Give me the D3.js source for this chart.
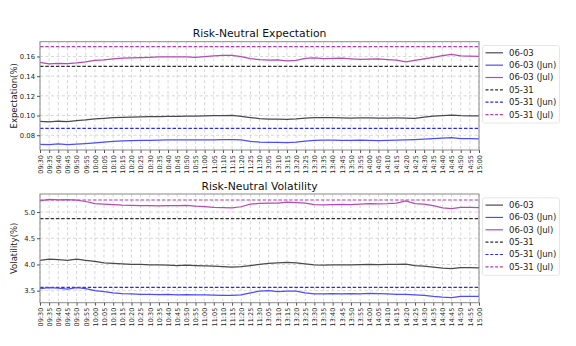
<!DOCTYPE html>
<html><head><meta charset="utf-8">
<script src="https://cdn.jsdelivr.net/npm/d3@7"></script>
<style>body{margin:0;background:#fff}svg{display:block}text{font-family:"DejaVu Sans",sans-serif}</style>
</head><body><svg id="c" width="576" height="346"></svg>
<script>
const times = ["09:30","09:35","09:40","09:45","09:50","09:55","10:00","10:05","10:10","10:15","10:20","10:25","10:30","10:35","10:40","10:45","10:50","10:55","11:00","11:05","11:10","11:15","11:20","11:25","11:30","13:05","13:10","13:15","13:20","13:25","13:30","13:35","13:40","13:45","13:50","13:55","14:00","14:05","14:10","14:15","14:20","14:25","14:30","14:35","14:40","14:45","14:50","14:55","15:00"];

// Risk-neutral expectation (%)
const expToday = [0.0940,0.0935,0.0942,0.0938,0.0948,0.0955,0.0965,0.0972,0.0978,0.0982,0.0985,0.0987,0.0988,0.0990,0.0992,0.0992,0.0993,0.0994,0.0996,0.0998,0.1000,0.1002,0.0992,0.0980,0.0968,0.0964,0.0964,0.0962,0.0966,0.0974,0.0978,0.0978,0.0978,0.0976,0.0975,0.0977,0.0976,0.0974,0.0975,0.0976,0.0975,0.0972,0.0984,0.0994,0.1000,0.1005,0.0998,0.0997,0.0996];
const expJun = [0.0708,0.0705,0.0712,0.0705,0.0710,0.0715,0.0722,0.0730,0.0738,0.0742,0.0745,0.0747,0.0748,0.0750,0.0752,0.0752,0.0752,0.0752,0.0753,0.0754,0.0755,0.0756,0.0752,0.0738,0.0730,0.0727,0.0728,0.0725,0.0730,0.0740,0.0748,0.0750,0.0750,0.0749,0.0748,0.0750,0.0748,0.0746,0.0748,0.0750,0.0752,0.0755,0.0760,0.0765,0.0770,0.0775,0.0765,0.0765,0.0762];
const expJul = [0.1540,0.1525,0.1530,0.1528,0.1535,0.1545,0.1560,0.1565,0.1575,0.1582,0.1585,0.1588,0.1592,0.1595,0.1597,0.1595,0.1595,0.1592,0.1598,0.1605,0.1610,0.1612,0.1598,0.1578,0.1568,0.1563,0.1565,0.1555,0.1560,0.1580,0.1585,0.1578,0.1580,0.1582,0.1575,0.1570,0.1572,0.1575,0.1568,0.1562,0.1545,0.1560,0.1575,0.1590,0.1608,0.1620,0.1605,0.1603,0.1602];
const expPrev = [0.150, 0.087, 0.170]; // 05-31, 05-31 (Jun), 05-31 (Jul)

// Risk-neutral volatility (%)
const volToday = [4.08,4.10,4.09,4.08,4.10,4.08,4.06,4.03,4.02,4.01,4.00,4.00,3.99,3.99,3.985,3.98,3.985,3.98,3.975,3.97,3.96,3.95,3.96,3.98,4.00,4.02,4.03,4.04,4.03,4.01,3.99,3.985,3.99,3.99,3.99,3.995,4.00,3.995,4.00,4.00,4.005,3.98,3.97,3.95,3.93,3.92,3.94,3.94,3.935];
const volJun = [3.54,3.56,3.55,3.53,3.56,3.54,3.50,3.48,3.46,3.445,3.44,3.43,3.43,3.425,3.43,3.42,3.425,3.42,3.42,3.415,3.41,3.41,3.42,3.46,3.49,3.50,3.48,3.49,3.49,3.46,3.44,3.44,3.445,3.44,3.445,3.44,3.45,3.445,3.44,3.43,3.43,3.42,3.41,3.39,3.375,3.37,3.39,3.39,3.39];
const volJul = [5.21,5.24,5.23,5.235,5.225,5.20,5.16,5.15,5.14,5.13,5.125,5.12,5.12,5.115,5.12,5.12,5.125,5.11,5.10,5.09,5.085,5.08,5.10,5.15,5.165,5.17,5.17,5.19,5.18,5.17,5.14,5.135,5.14,5.145,5.14,5.15,5.16,5.155,5.16,5.17,5.21,5.16,5.15,5.12,5.08,5.065,5.09,5.09,5.085];
const volPrev = [4.872, 3.565, 5.229];

const legendLabels = ["06-03","06-03 (Jun)","06-03 (Jul)","05-31","05-31 (Jun)","05-31 (Jul)"];
const expTicks = [0.08,0.10,0.12,0.14,0.16];
const volTicks = [3.5,4.0,4.5,5.0];

const solidColors = ["#4a4a4a","#4d4dff","#b44ab4"];
const dashColors = ["#303030","#2a2aee","#b23db2"];

const svg = d3.select("#c");
const L = 40, R = 479;
const x = d3.scalePoint().domain(times).range([L, R]);

function panel(top, bottom, domain, ticks, fmt, title, ylabel, series, prev) {
  const y = d3.scaleLinear().domain(domain).range([bottom, top]);
  const g = svg.append("g");
  // grid
  g.append("g").selectAll("line").data(times).join("line")
    .attr("x1", d => x(d)).attr("x2", d => x(d)).attr("y1", top).attr("y2", bottom)
    .attr("stroke", "#c4c4c4").attr("stroke-width", 0.7).attr("stroke-dasharray", "3,2.5");
  g.append("g").selectAll("line").data(ticks).join("line")
    .attr("x1", L).attr("x2", R).attr("y1", d => y(d)).attr("y2", d => y(d))
    .attr("stroke", "#c4c4c4").attr("stroke-width", 0.7).attr("stroke-dasharray", "3,2.5");
  // reference dashed lines
  g.append("g").selectAll("line").data(prev).join("line")
    .attr("x1", L).attr("x2", R).attr("y1", d => y(d)).attr("y2", d => y(d))
    .attr("stroke", (d, i) => dashColors[i]).attr("stroke-width", 1.2).attr("stroke-dasharray", "3.5,1.8");
  // series
  const line = d3.line().x((d, i) => x(times[i])).y(d => y(d));
  series.forEach((s, i) => {
    g.append("path").datum(s).attr("d", line).attr("fill", "none")
      .attr("stroke", solidColors[i]).attr("stroke-width", 1.25);
  });
  // frame
  g.append("rect").attr("x", L).attr("y", top).attr("width", R - L).attr("height", bottom - top)
    .attr("fill", "none").attr("stroke", "#8a8a8a").attr("stroke-width", 1);
  // axes
  const xa = g.append("g").attr("transform", `translate(0,${bottom})`)
    .call(d3.axisBottom(x).tickSize(3).tickPadding(2));
  xa.select(".domain").remove();
  xa.selectAll("line").attr("stroke", "#555");
  xa.selectAll("text").attr("transform", "rotate(-90)").attr("text-anchor", "end")
    .attr("x", -5).attr("y", 0).attr("dy", "0.35em").attr("font-size", 6.5).attr("fill", "#222")
    .attr("font-family", "DejaVu Sans");
  const ya = g.append("g").attr("transform", `translate(${L},0)`)
    .call(d3.axisLeft(y).tickValues(ticks).tickFormat(d3.format(fmt)).tickSize(3).tickPadding(2));
  ya.select(".domain").remove();
  ya.selectAll("line").attr("stroke", "#555");
  ya.selectAll("text").attr("font-size", 6.8).attr("fill", "#222").attr("font-family", "DejaVu Sans");
  // title
  g.append("text").attr("x", (L + R) / 2).attr("y", top - 4.5).attr("text-anchor", "middle")
    .attr("font-size", 10.8).attr("fill", "#111").text(title);
  g.append("text").attr("transform", `translate(14,${(top + bottom) / 2}) rotate(-90)`)
    .attr("text-anchor", "middle").attr("dy", "0.35em").attr("font-size", 8.5).attr("fill", "#222").text(ylabel);
  // legend
  const lg = g.append("g").attr("transform", `translate(482.5,${top + 3.8})`);
  lg.append("rect").attr("width", 77).attr("height", 77.5).attr("rx", 2)
    .attr("fill", "#fff").attr("stroke", "#e0e0e0").attr("stroke-width", 0.8);
  legendLabels.forEach((lab, i) => {
    const yy = 7.3 + i * 12.35;
    lg.append("line").attr("x1", 3).attr("x2", 20.5).attr("y1", yy).attr("y2", yy)
      .attr("stroke", i < 3 ? solidColors[i] : dashColors[i - 3])
      .attr("stroke-width", 1.2)
      .attr("stroke-dasharray", i < 3 ? null : "3,1.8");
    lg.append("text").attr("x", 26.5).attr("y", yy).attr("dy", "0.35em")
      .attr("font-size", 8.5).attr("fill", "#222").text(lab);
  });
}

panel(41.7, 150, [0.065, 0.175], expTicks, ".2f", "Risk-Neutral Expectation", "Expectation(%)",
  [expToday, expJun, expJul], expPrev);
panel(194, 302.7, [3.271, 5.343], volTicks, ".1f", "Risk-Neutral Volatility", "Volatility(%)",
  [volToday, volJun, volJul], volPrev);
</script></body></html>
